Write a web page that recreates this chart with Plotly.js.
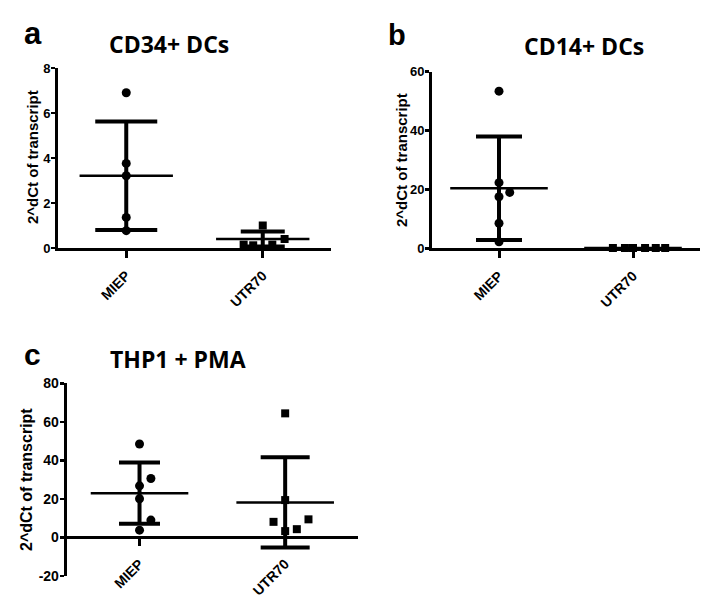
<!DOCTYPE html>
<html><head><meta charset="utf-8">
<script src="https://cdn.plot.ly/plotly-3.0.1.min.js"></script>
<style>html,body{margin:0;padding:0;background:#fff}</style>
</head><body><div id="chart" style="width:708px;height:601px"></div>
<script>
const categories = ['MIEP', 'UTR70'];
const yTitle = '2^dCt of transcript';

// Panel a: CD34+ DCs
const aTitle = 'CD34+ DCs';
const aMiepY = [6.9, 3.76, 3.21, 1.36, 0.77];
const aMiepJit = [0, 0, 0, 0, 0];
const aUtrY = [0.15, 0.12, 1.0, 0.15, 0.40];
const aUtrJit = [-0.14, -0.07, 0, 0.07, 0.16];
const aMean = [3.21, 0.40];
const aSD = [2.41, 0.33];
const aTicks = [0, 2, 4, 6, 8];

// Panel b: CD14+ DCs
const bTitle = 'CD14+ DCs';
const bMiepY = [53.4, 22.3, 19.0, 17.5, 8.5, 2.2];
const bMiepJit = [0, 0, 0.08, 0, 0, 0];
const bUtrY = [0.1, 0.1, 0.1, 0.1, 0.1, 0.1];
const bUtrJit = [-0.15, -0.06, 0, 0.09, 0.17, 0.24];
const bMean = [20.4, 0.1];
const bSD = [17.6, 0.05];
const bTicks = [0, 20, 40, 60];

// Panel c: THP1 + PMA
const cTitle = 'THP1 + PMA';
const cMiepY = [48.5, 30.6, 26.8, 20.1, 9.0, 3.8];
const cMiepJit = [0, 0.078, 0, 0, 0.078, 0];
const cUtrY = [64.4, 19.4, 8.1, 3.3, 4.3, 9.4];
const cUtrJit = [0, 0, -0.08, 0, 0.08, 0.16];
const cMean = [23.0, 18.2];
const cSD = [15.9, 23.4];
const cTicks = [-20, 0, 20, 40, 60, 80];

const W = 708, H = 601;
const px = v => v / W;
const py = v => 1 - v / H;
const bold = s => '<b>' + s + '</b>';

function pts(yv, jit, cat, sym, xa, ya) {
  return {
    type: 'scatter', mode: 'markers', xaxis: xa, yaxis: ya,
    x: yv.map((_, i) => cat + jit[i]), y: yv, cliponaxis: false,
    marker: {symbol: sym, size: sym === 'square' ? 8 : 9, color: '#000'},
    hoverinfo: 'y', showlegend: false
  };
}
function summary(mean, sd, cat, meanHalf, capHalf, xa, ya) {
  return {
    type: 'scatter', mode: 'markers', xaxis: xa, yaxis: ya,
    x: [cat], y: [mean[cat]], cliponaxis: false,
    marker: {size: 1, color: 'rgba(0,0,0,0)'},
    error_y: {type: 'data', array: [sd[cat]], visible: true, color: '#000', thickness: 4, width: capHalf},
    error_x: {type: 'constant', value: meanHalf, visible: true, color: '#000', thickness: 2.5, width: 0},
    hoverinfo: 'y', showlegend: false
  };
}

const traces = [
  pts(aMiepY, aMiepJit, 0, 'circle', 'x', 'y'),
  pts(aUtrY, aUtrJit, 1, 'square', 'x', 'y'),
  summary(aMean, aSD, 0, 0.342, 31, 'x', 'y'),
  summary(aMean, aSD, 1, 0.342, 22, 'x', 'y'),
  pts(bMiepY, bMiepJit, 0, 'circle', 'x2', 'y2'),
  pts(bUtrY, bUtrJit, 1, 'square', 'x2', 'y2'),
  summary(bMean, bSD, 0, 0.364, 23, 'x2', 'y2'),
  summary(bMean, bSD, 1, 0.364, 0, 'x2', 'y2'),
  pts(cMiepY, cMiepJit, 0, 'circle', 'x3', 'y3'),
  pts(cUtrY, cUtrJit, 1, 'square', 'x3', 'y3'),
  summary(cMean, cSD, 0, 0.335, 20.5, 'x3', 'y3'),
  summary(cMean, cSD, 1, 0.335, 24.5, 'x3', 'y3')
];

const tickFont = s => ({family: 'Liberation Sans', size: s, color: '#000', weight: 700});
function xAxis(dom, anchor, extra) {
  return Object.assign({
    domain: dom, anchor: anchor, range: [-0.5, 1.5],
    tickvals: [0, 1], ticktext: categories.map(bold), tickangle: -45,
    showline: true, linecolor: '#000', linewidth: 3,
    ticks: 'outside', ticklen: 7, tickwidth: 3, tickcolor: '#000', ticklabelstandoff: 4,
    showgrid: false, zeroline: false, tickfont: tickFont(14), fixedrange: true
  }, extra || {});
}
function yAxis(dom, anchor, range, tv, fs, extra) {
  return Object.assign({
    domain: dom, anchor: anchor, range: range, tickvals: tv,
    ticktext: tv.map(v => bold(String(v))),
    showline: true, linecolor: '#000', linewidth: 3,
    ticks: 'outside', ticklen: 4, tickwidth: 2.5, tickcolor: '#000', ticklabelstandoff: -2,
    showgrid: false, zeroline: false, tickfont: tickFont(fs), fixedrange: true
  }, extra || {});
}

const titleFont = {family: 'Open Sans', size: 23, color: '#000', weight: 700};
const letterFont = s => ({family: 'Liberation Sans', size: s, color: '#000', weight: 700});
const yTitleFont = s => ({family: 'Liberation Sans', size: s, color: '#000', weight: 700});
function ann(text, x, y, font, extra) {
  return Object.assign({text: bold(text), x: px(x), y: py(y), xref: 'paper', yref: 'paper',
    xanchor: 'center', yanchor: 'middle', showarrow: false, font: font}, extra || {});
}

const layout = {
  width: W, height: H, margin: {l: 0, r: 0, t: 0, b: 0},
  paper_bgcolor: '#fff', plot_bgcolor: 'rgba(0,0,0,0)', showlegend: false,
  xaxis: xAxis([px(58), px(331)], 'y'),
  yaxis: yAxis([py(248), py(68)], 'x', [0, 8], aTicks, 13),
  xaxis2: xAxis([px(432), px(700)], 'y2'),
  yaxis2: yAxis([py(248.3), py(71.7)], 'x2', [0, 60], bTicks, 13),
  xaxis3: xAxis([px(66.7), px(358)], 'free', {position: py(537.3)}),
  yaxis3: yAxis([py(576), py(383.3)], 'x3', [-20, 80], cTicks, 14),
  annotations: [
    ann('a', 33, 34, letterFont(31)),
    ann('b', 397, 35, letterFont(29)),
    ann('c', 32, 354, letterFont(30)),
    ann(aTitle, 169, 44, titleFont),
    ann(bTitle, 584, 46, titleFont),
    ann(cTitle, 178, 359, titleFont),
    ann(yTitle, 32, 157, yTitleFont(15), {textangle: -90}),
    ann(yTitle, 401, 160, yTitleFont(15), {textangle: -90}),
    ann(yTitle, 26, 480, yTitleFont(16), {textangle: -90})
  ]
};

Plotly.newPlot('chart', traces, layout, {staticPlot: true, displayModeBar: false});
</script>
</body></html>
